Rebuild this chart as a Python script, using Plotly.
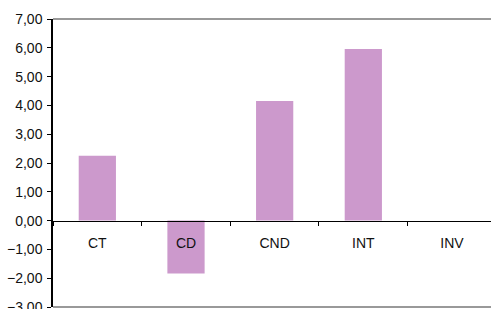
import plotly.graph_objects as go

categories = ["CT", "CD", "CND", "INT", "INV"]
values = [2.25, -1.84, 4.15, 5.96, None]
y_ticks = [7, 6, 5, 4, 3, 2, 1, 0, -1, -2, -3]

fig = go.Figure()
fig.add_trace(go.Bar(
    x=categories, y=values,
    marker=dict(color="#CC99CC", line=dict(width=0)),
    width=0.42,
    showlegend=False,
))

fig.update_layout(
    width=491, height=309,
    margin=dict(l=53, r=0, t=19, b=2, autoexpand=False),
    paper_bgcolor="white", plot_bgcolor="white",
    separators=",.",
    font=dict(family="Liberation Sans, Arial, sans-serif", size=14, color="#111111"),
    xaxis=dict(
        type="category",
        range=[-0.5, 4.44],
        anchor="free", position=0.3,
        automargin=False,
        showline=True, linecolor="black", linewidth=1,
        ticks="outside", ticklen=4, tickcolor="black", tickwidth=1,
        tickson="boundaries",
        ticklabelstandoff=10,
        showgrid=False, zeroline=False,
    ),
    yaxis=dict(
        range=[-3, 7],
        tickvals=y_ticks,
        tickformat=".2f",
        automargin=False,
        ticklabeloverflow="allow",
        showline=True, linecolor="black", linewidth=1.5,
        ticks="outside", ticklen=4, tickcolor="black", tickwidth=1,
        ticklabelstandoff=2,
        showgrid=False, zeroline=False,
    ),
    shapes=[
        dict(type="line", xref="paper", yref="paper", x0=0, x1=1, y0=1, y1=1,
             line=dict(color="#999999", width=2)),
        dict(type="line", xref="paper", yref="paper", x0=0, x1=1, y0=0, y1=0,
             line=dict(color="#999999", width=2)),
    ],
)

fig.write_html(
    "out.html",
    config={"displayModeBar": False},
    post_script="document.body.style.margin='0';document.body.style.overflow='hidden';",
)
